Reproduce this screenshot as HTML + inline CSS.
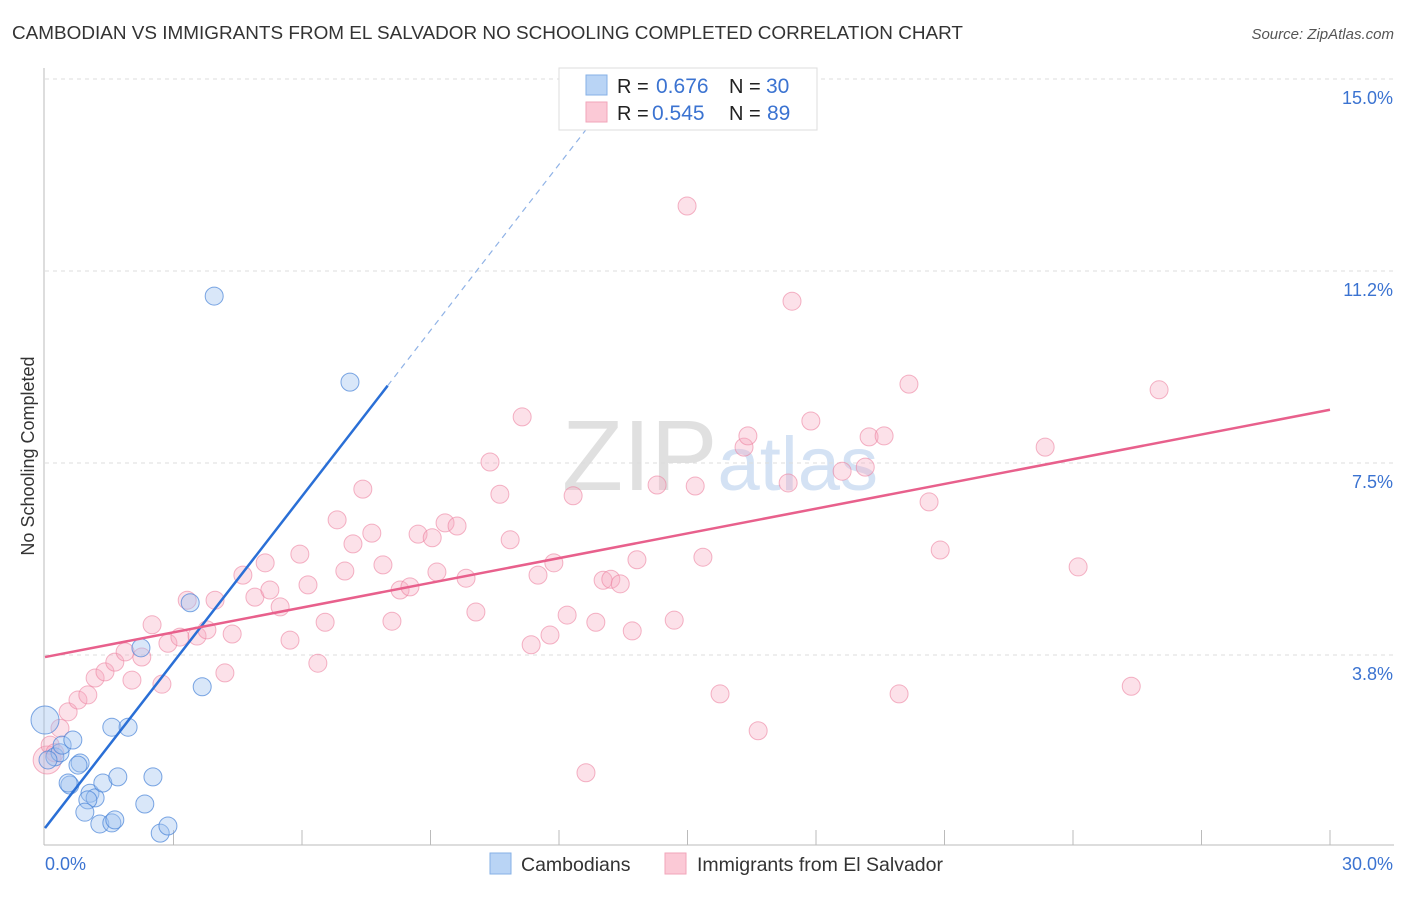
<!DOCTYPE html>
<html><head><meta charset="utf-8"><style>
body{margin:0;background:#fff;font-family:"Liberation Sans",sans-serif;}
svg text{font-family:"Liberation Sans",sans-serif;}
</style></head><body>
<svg id="chart" width="1406" height="892" viewBox="0 0 1406 892" xmlns="http://www.w3.org/2000/svg">
<text x="12" y="39" font-size="18" fill="#333" textLength="951" lengthAdjust="spacingAndGlyphs">CAMBODIAN VS IMMIGRANTS FROM EL SALVADOR NO SCHOOLING COMPLETED CORRELATION CHART</text>
<text x="1394" y="39" font-size="15" fill="#555" text-anchor="end" font-style="italic">Source: ZipAtlas.com</text>
<text x="720" y="490" font-size="100" fill="#e8e8e8" text-anchor="middle" font-family="Liberation Serif"><tspan fill="#e0e0e0">ZIP</tspan><tspan fill="#d4e2f4" font-family="Liberation Sans" font-size="76">atlas</tspan></text>
<g id="grid"></g>
<g id="axes"></g>
<g id="pinkPts"></g>
<g id="bluePts"></g>
<g id="lines"></g>
<text transform="translate(34,456) rotate(-90)" font-size="18" fill="#333" text-anchor="middle">No Schooling Completed</text>
<g>
<rect x="559" y="68" width="258" height="62" fill="#fff" stroke="#ddd"/>
<rect x="586" y="75" width="21" height="20" fill="#b9d4f5" stroke="#86b0e6"/>
<rect x="586" y="102" width="21" height="20" fill="#fbc9d6" stroke="#f2a5ba"/>
<text x="617" y="93" font-size="20" fill="#222">R =</text>
<text x="656" y="93" font-size="21" fill="#3b73d1">0.676</text>
<text x="729" y="93" font-size="20" fill="#222">N =</text>
<text x="766" y="93" font-size="21" fill="#3b73d1">30</text>
<text x="617" y="120" font-size="20" fill="#222">R =</text>
<text x="652" y="120" font-size="21" fill="#3b73d1">0.545</text>
<text x="729" y="120" font-size="20" fill="#222">N =</text>
<text x="767" y="120" font-size="21" fill="#3b73d1">89</text>
</g>
<g>
<rect x="490" y="853" width="21" height="21" fill="#b9d4f5" stroke="#86b0e6"/>
<text x="521" y="871" font-size="19.5" fill="#333">Cambodians</text>
<rect x="665" y="853" width="21" height="21" fill="#fbc9d6" stroke="#f2a5ba"/>
<text x="697" y="871" font-size="19.5" fill="#333">Immigrants from El Salvador</text>
</g>
</svg>
<script>
const yTicks=[3.75,7.5,11.25,15];
const yTickLabels=["3.8%","7.5%","11.2%","15.0%"];
const xTickVals=[0,3,6,9,12,15,18,21,24,27,30];
const xEndLabels=["0.0%","30.0%"];
const blueX=[0,0.23,0.35,0.40,0.65,0.58,0.54,0.82,0.77,1.05,1.17,1.00,0.93,1.28,1.56,1.63,1.35,1.70,1.56,1.94,2.33,2.52,2.69,2.87,2.24,3.39,3.67,3.95,7.12,0.07];
const blueY=[2.48,1.76,1.84,1.99,2.09,1.21,1.25,1.64,1.60,1.05,0.96,0.92,0.68,0.45,0.47,0.53,1.25,1.37,2.34,2.34,0.84,1.37,0.27,0.41,3.89,4.77,3.13,10.76,9.08,1.70];
const pinkX=[0.05,0.12,0.23,0.35,0.54,0.77,1.00,1.17,1.40,1.63,1.87,2.03,2.26,2.50,2.73,2.87,3.15,3.32,3.55,3.78,3.97,4.20,4.37,4.62,4.90,5.14,5.25,5.49,5.72,5.95,6.14,6.37,6.54,6.82,7.00,7.19,7.42,7.63,7.89,8.10,8.29,8.52,8.71,9.04,9.15,9.34,9.62,9.83,10.06,10.39,10.62,10.86,11.14,11.35,11.51,11.79,11.88,12.19,12.33,12.63,12.86,13.03,13.21,13.43,13.71,13.82,14.29,14.69,14.99,15.18,15.36,15.76,16.32,16.41,16.65,17.35,17.44,17.88,18.61,19.15,19.24,19.59,19.94,20.17,20.64,20.90,23.35,24.12,25.36,26.01];
const pinkY=[1.70,1.99,1.84,2.32,2.64,2.87,2.97,3.30,3.42,3.61,3.81,3.26,3.71,4.34,3.18,3.98,4.10,4.82,4.12,4.24,4.82,3.40,4.16,5.31,4.88,5.55,5.02,4.69,4.04,5.72,5.12,3.59,4.39,6.39,5.39,5.92,6.99,6.13,5.51,4.41,5.02,5.08,6.11,6.04,5.37,6.33,6.27,5.25,4.59,7.52,6.89,6.00,8.40,3.95,5.31,4.14,5.55,4.53,6.86,1.45,4.39,5.21,5.23,5.14,4.22,5.61,7.07,4.43,12.52,7.05,5.66,2.99,7.81,8.03,2.27,7.11,10.66,8.32,7.34,7.42,8.01,8.03,2.99,9.04,6.74,5.80,7.81,5.47,3.14,8.93];
const blueLine=[0.37,1.08,8.0,12.7]; // intercept, slope, solid end, dashed end
const pinkLine=[3.71,8.54]; // y at 0 and y at 30
const X=v=>45+v*42.833, Y=v=>847-v*51.2;
const NS="http://www.w3.org/2000/svg";
function mk(tag,attrs,parent){const e=document.createElementNS(NS,tag);for(const k in attrs)e.setAttribute(k,attrs[k]);parent.appendChild(e);return e;}
const grid=document.getElementById('grid'),axes=document.getElementById('axes');
yTicks.forEach((t,i)=>{
  const l=mk('line',{x1:45,x2:1394,y1:Y(t),y2:Y(t),stroke:'#ddd','stroke-dasharray':'4,4'},grid);
  
  
  const tx=mk('text',{x:1393,y:Y(t)+25,'font-size':18,fill:'#3b73d1','text-anchor':'end'},axes);
  tx.textContent=yTickLabels[i];
  
  
});
let a=mk('line',{x1:44,x2:44,y1:68,y2:845,stroke:'#bbb'},axes);


a=mk('line',{x1:44,x2:1394,y1:845,y2:845,stroke:'#bbb'},axes);


xTickVals.forEach(t=>{if(t===0)return;
  const l=mk('line',{x1:X(t),x2:X(t),y1:830,y2:845,stroke:'#bbb'},axes);
  
  
});
let t0=mk('text',{x:45,y:870,'font-size':18,fill:'#3b73d1'},axes);t0.textContent=xEndLabels[0];


let t1=mk('text',{x:1393,y:870,'font-size':18,fill:'#3b73d1','text-anchor':'end'},axes);t1.textContent=xEndLabels[1];


const pg=document.getElementById('pinkPts');
pinkX.forEach((x,i)=>{
  const c=mk('circle',{cx:X(x),cy:Y(pinkY[i]),r:i===0?14:9,fill:'rgba(247,170,192,0.35)',stroke:'rgba(236,130,160,0.6)','stroke-width':1},pg);
  
  
});
const bg=document.getElementById('bluePts');
blueX.forEach((x,i)=>{
  const c=mk('circle',{cx:X(x),cy:Y(blueY[i]),r:i===0?14:9,fill:'rgba(160,196,240,0.4)',stroke:'rgba(70,130,215,0.7)','stroke-width':1},bg);
  
  
});
const lg=document.getElementById('lines');
const by=v=>blueLine[0]+blueLine[1]*v;
let ln=mk('line',{x1:X(0),y1:Y(by(0)),x2:X(blueLine[2]),y2:Y(by(blueLine[2])),stroke:'#2a6fd6','stroke-width':2.5},lg);


ln=mk('line',{x1:X(blueLine[2]),y1:Y(by(blueLine[2])),x2:X(blueLine[3]),y2:Y(by(blueLine[3])),stroke:'#8fb2e6','stroke-width':1.2,'stroke-dasharray':'6,5'},lg);


ln=mk('line',{x1:X(0),y1:Y(pinkLine[0]),x2:X(30),y2:Y(pinkLine[1]),stroke:'#e8608c','stroke-width':2.5},lg);


</script>
</body></html>
